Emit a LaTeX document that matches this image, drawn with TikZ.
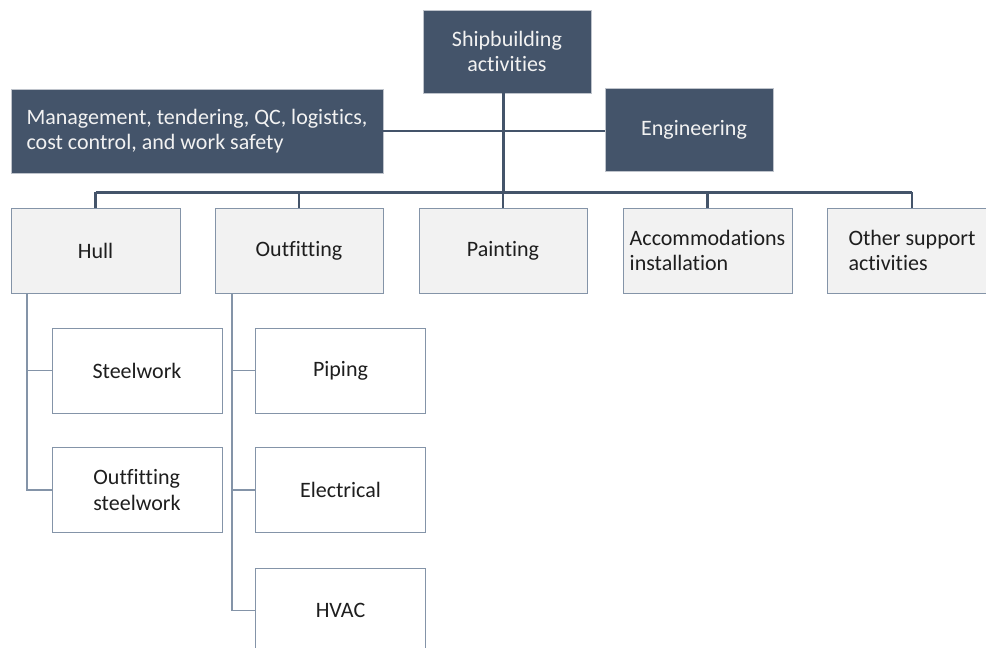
\documentclass[tikz,border=0pt]{standalone}
\usepackage{fontspec}
\setmainfont{Carlito}[Ligatures=NoCommon]
\usetikzlibrary{calc}
\definecolor{navy}{HTML}{44546A}
\definecolor{boxline}{HTML}{8494A8}
\definecolor{lightfill}{HTML}{F2F2F2}
\definecolor{darktext}{HTML}{1E1E1E}
\begin{document}
\begin{tikzpicture}[x=1pt,y=-1pt,
  every node/.style={font=\fontsize{22}{25.5}\selectfont},
  darkbox/.style={rectangle, fill=navy, draw=navy!35, line width=0.8pt,
    text=white!95!black, inner sep=0pt, align=center},
  levelbox/.style={rectangle, fill=lightfill, draw=boxline, line width=1pt,
    text=darktext, inner sep=0pt, align=center,
    minimum width=169pt, minimum height=85pt},
  subbox/.style={rectangle, fill=white, draw=boxline, line width=1pt,
    text=darktext, inner sep=0pt, align=center,
    minimum width=170pt, minimum height=85pt},
  bus/.style={draw=navy, line width=3pt},
  drop/.style={draw=navy, line width=2.5pt},
  thin/.style={draw=boxline, line width=1.3pt}]
\clip (0,0) rectangle (986,648);
\useasboundingbox (0,0) rectangle (986,648);

% top level and staff functions
\node[darkbox, minimum width=168pt, minimum height=83pt] (top) at (507,51.5)
  {Shipbuilding\\activities};
\node[darkbox, align=left, minimum width=372pt, minimum height=84pt] (mgmt) at (197,131)
  {Management, tendering, QC, logistics,\\cost control, and work safety};
\node[darkbox, minimum width=168pt, minimum height=83pt] (eng) at (689,130)
  {\hspace*{10pt}Engineering};

% main activities
\node[levelbox] (hull)  at (95.5,250.5) {Hull};
\node[levelbox, minimum width=168pt] (outf) at (299,250.5) {Outfitting};
\node[levelbox, minimum width=168pt] (paint) at (503,250.5) {Painting};
\node[levelbox, align=left] (accom) at (707.5,250.5) {Accommodations\\installation};
\node[levelbox, align=left, minimum width=170pt] (other) at (912,250.5) {Other support\\activities};

% hull sub-activities
\node[subbox] (stw)  at (137,370.5) {Steelwork};
\node[subbox, align=left] (ostw) at (137,490) {Outfitting\\steelwork};

% outfitting sub-activities
\node[subbox] (pipe) at (340.5,370.5) {Piping};
\node[subbox] (elec) at (340.5,490) {Electrical};
\node[subbox] (hvac) at (340.5,610.5) {HVAC};

% branch points
\coordinate (busy) at (0,192);
\coordinate (hullstem) at (27,293);
\coordinate (outfstem) at (232,293);

% connectors
\draw[drop] (mgmt.east) -- (mgmt.east -| eng.west);
\draw[bus] (top.south -| paint.north) -- (busy -| paint.north);
\draw[bus] (busy -| hull.north) -- (busy -| other.north);
\foreach \n in {hull,outf,paint,accom,other}
  \draw[drop] (busy -| \n.north) -- (\n.north);

\draw[thin] (hullstem) |- (ostw.west);
\draw[thin] (hullstem |- stw.west) -- (stw.west);
\draw[thin] (outfstem) |- (hvac.west);
\draw[thin] (outfstem |- pipe.west) -- (pipe.west);
\draw[thin] (outfstem |- elec.west) -- (elec.west);
\end{tikzpicture}
\end{document}
